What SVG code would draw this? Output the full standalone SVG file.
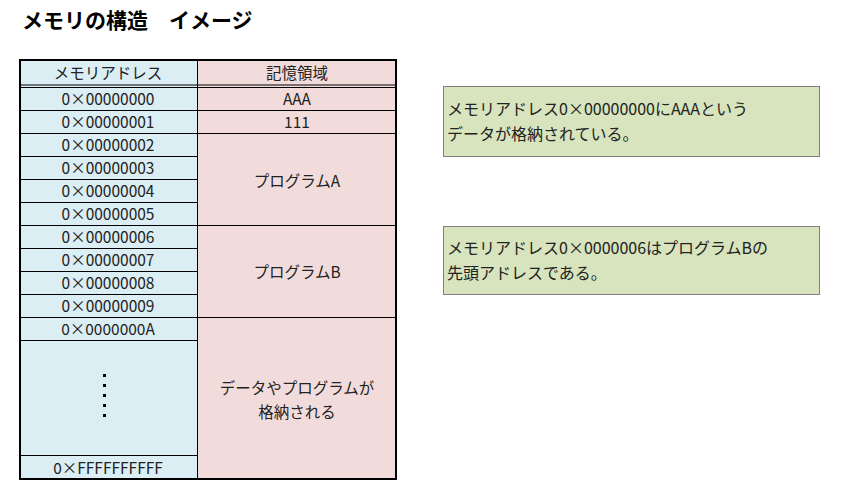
<svg xmlns="http://www.w3.org/2000/svg" width="841" height="495" viewBox="0 0 841 495">
<style>
text{font-family:"Noto Sans CJK JP","Liberation Sans",sans-serif;font-size:15.5px;fill:#222;text-anchor:middle}
.t{font-size:21px;font-weight:bold;text-anchor:start;fill:#000}
.n{text-anchor:start;font-size:16px}
.a{fill:#DBEEF4}.p{fill:#F2DCDB}
.l{stroke:#000;stroke-width:1;fill:none}
.box{fill:#D7E4BD;stroke:#7f7f7f;stroke-width:1}
</style>
<rect width="841" height="495" fill="#fff"/>
<text class="t" x="22" y="28">メモリの構造　イメージ</text>
<g id="table">
<rect class="a" x="20" y="60" width="177" height="419"/>
<rect class="p" x="197" y="60" width="199" height="419"/>
<g class="l">
<line x1="20" y1="85" x2="396" y2="85"/><line x1="20" y1="87.5" x2="396" y2="87.5"/>
<line x1="20" y1="110.5" x2="396" y2="110.5"/><line x1="20" y1="133.5" x2="396" y2="133.5"/>
<line x1="20" y1="156.5" x2="197" y2="156.5"/><line x1="20" y1="179.5" x2="197" y2="179.5"/><line x1="20" y1="202.5" x2="197" y2="202.5"/>
<line x1="20" y1="225.5" x2="396" y2="225.5"/>
<line x1="20" y1="248.5" x2="197" y2="248.5"/><line x1="20" y1="271.5" x2="197" y2="271.5"/><line x1="20" y1="294.5" x2="197" y2="294.5"/>
<line x1="20" y1="317.5" x2="396" y2="317.5"/>
<line x1="20" y1="340.5" x2="197" y2="340.5"/><line x1="20" y1="455.5" x2="197" y2="455.5"/>
<line x1="197.5" y1="60" x2="197.5" y2="479"/>
</g>
<rect x="20" y="60" width="376" height="419" fill="none" stroke="#000" stroke-width="2"/>
<text x="108" y="79">メモリアドレス</text><text x="297" y="79">記憶領域</text>
<text x="108" y="105">0×00000000</text><text x="297" y="105">AAA</text>
<text x="108" y="128">0×00000001</text><text x="297" y="128">111</text>
<text x="108" y="151">0×00000002</text><text x="108" y="174">0×00000003</text>
<text x="108" y="197">0×00000004</text><text x="108" y="220">0×00000005</text>
<text x="297" y="187">プログラムA</text>
<text x="108" y="243">0×00000006</text><text x="108" y="266">0×00000007</text>
<text x="108" y="289">0×00000008</text><text x="108" y="312">0×00000009</text>
<text x="297" y="278">プログラムB</text>
<text x="108" y="335">0×0000000A</text>
<g fill="#000"><rect x="103" y="374" width="3" height="3"/><rect x="103" y="384" width="3" height="3"/><rect x="103" y="394" width="3" height="3"/><rect x="103" y="404" width="3" height="3"/><rect x="103" y="414" width="3" height="3"/></g>
<text x="297" y="394">データやプログラムが</text><text x="297" y="418">格納される</text>
<text x="108" y="474">0×FFFFFFFFFF</text>
</g>
<g id="note1"><rect class="box" x="443.5" y="86.5" width="376" height="70"/>
<text class="n" x="447" y="115">メモリアドレス0×00000000にAAAという</text>
<text class="n" x="447" y="140">データが格納されている。</text></g>
<g id="note2"><rect class="box" x="443.5" y="226.5" width="376" height="68"/>
<text class="n" x="447" y="254">メモリアドレス0×0000006はプログラムBの</text>
<text class="n" x="447" y="279">先頭アドレスである。</text></g>
</svg>
